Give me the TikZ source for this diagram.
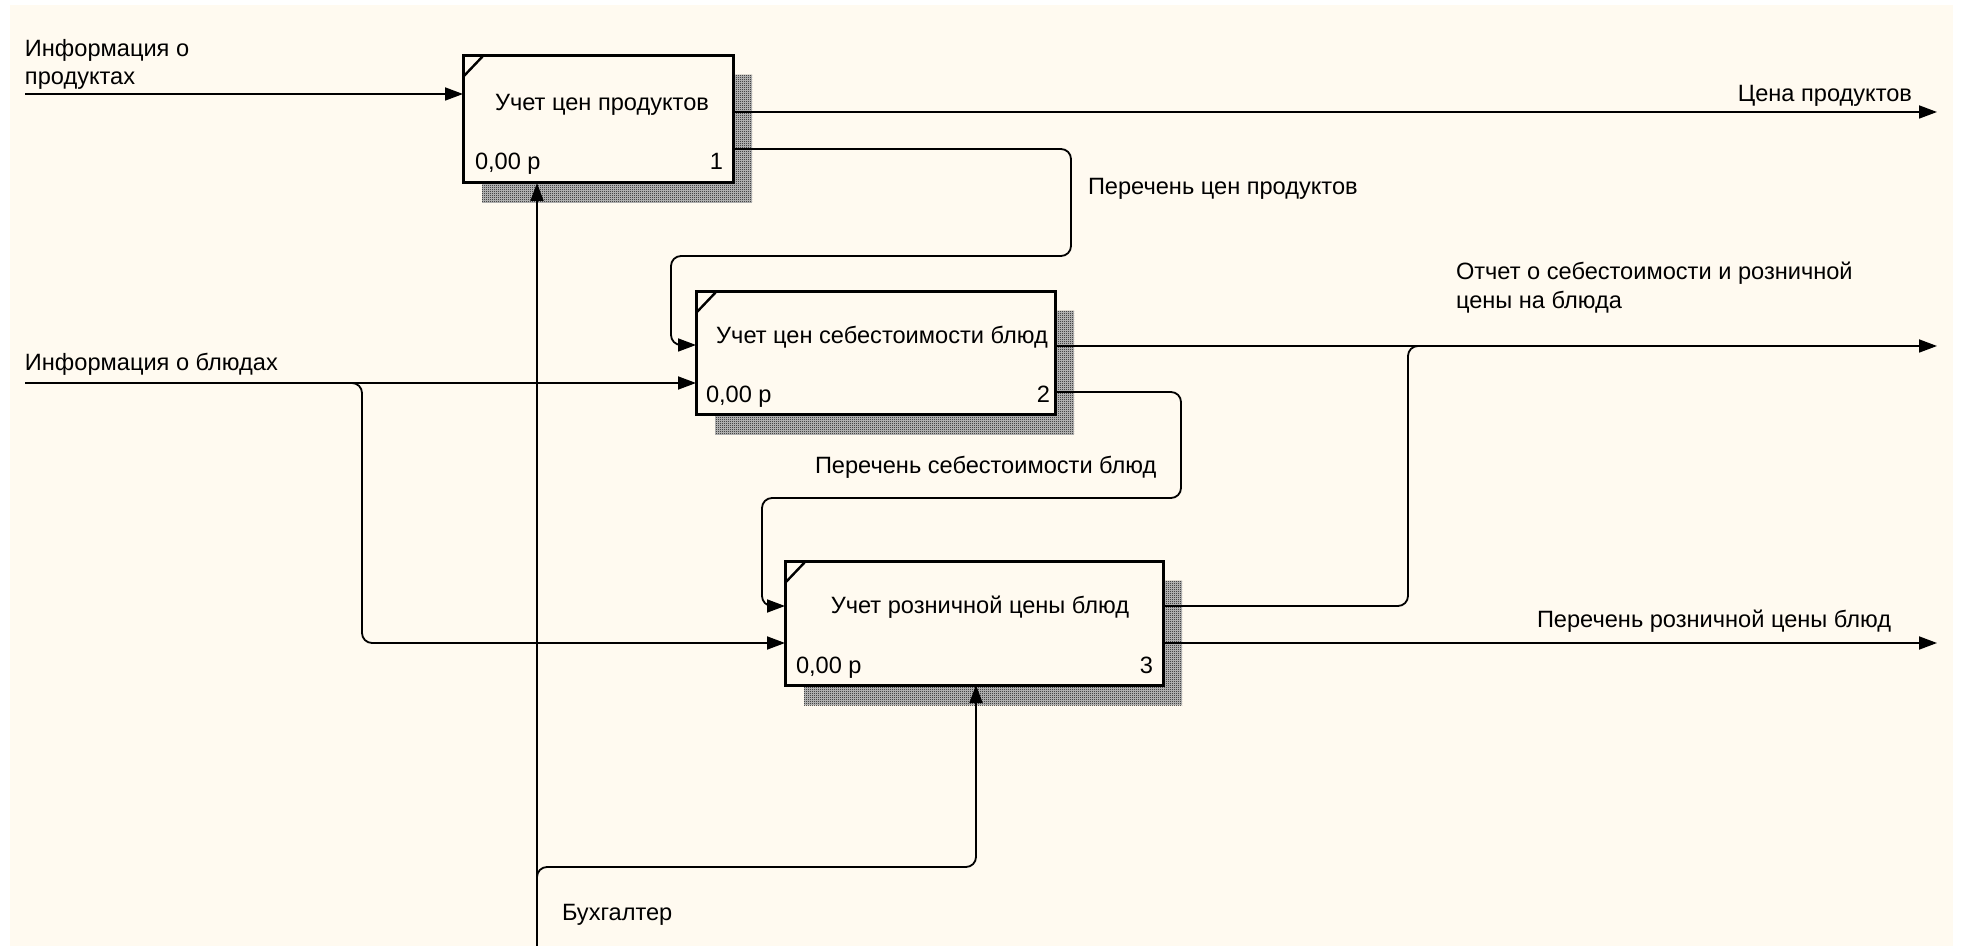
\documentclass[tikz,border=0pt]{standalone}
\usepackage{fontspec}
\setmainfont{Liberation Sans}
\usetikzlibrary{arrows.meta,patterns.meta}
\definecolor{paper}{HTML}{FFFAF0}

% fine checker used for the drop shadows of the function boxes
\pgfdeclarepattern{
  name=finecheck,
  type=uncolored,
  bottom left={\pgfpoint{0pt}{0pt}},
  top right={\pgfpoint{1pt}{1pt}},
  tile size={\pgfpoint{1pt}{1pt}},
  code={
    \pgfpathrectangle{\pgfpoint{0pt}{0pt}}{\pgfpoint{0.5pt}{0.5pt}}
    \pgfpathrectangle{\pgfpoint{0.5pt}{0.5pt}}{\pgfpoint{0.5pt}{0.5pt}}
    \pgfusepath{fill}
  }
}

\begin{document}
\begin{tikzpicture}[x=0.5pt,y=-0.5pt,
  every node/.style={font=\fontsize{11.8}{14.5}\selectfont, inner sep=0pt, outer sep=0pt, text=black},
  func/.style={draw, line width=1.5pt, fill=paper, anchor=north west},
  corner/.style={line width=1.2pt},
  shadowfill/.style={fill=black!22, postaction={pattern={finecheck}, pattern color=black}},
  flow/.style={line width=0.9pt, rounded corners=5pt, -{Triangle[length=9pt,width=6.5pt]}},
  pipe/.style={line width=0.9pt, rounded corners=5pt},
  lbl/.style={anchor=base west},
  lble/.style={anchor=base east},
  ttl/.style={anchor=base},
]
\useasboundingbox (0,0) rectangle (1961,946);
\fill[white] (0,0) rectangle (1961,946);
\fill[paper] (10,5) rectangle (1953,946);

% drop shadows
\path[shadowfill] (482,75) rectangle (752,203);
\path[shadowfill] (715,311) rectangle (1074,435);
\path[shadowfill] (804,581) rectangle (1182,705);

% function boxes
\node[func, minimum width=135pt, minimum height=63.5pt] (box1) at (463,56) {};
\node[func, minimum width=179.5pt, minimum height=61.5pt] (box2) at (696,292) {};
\node[func, minimum width=189pt, minimum height=61.5pt] (box3) at (785,562) {};
\foreach \b in {box1,box2,box3}
  \draw[corner] ([yshift=-10.5pt]\b.north west) -- ([xshift=10pt]\b.north west);

\node[ttl] (t1) at (602,111) {Учет цен продуктов};
\node[lbl] (c1) at (475,170) {0,00 р};
\node[lble] (n1) at (723,170) {1};

\node[ttl] (t2) at (882,344) {Учет цен себестоимости блюд};
\node[lbl] (c2) at (706,403) {0,00 р};
\node[lble] (n2) at (1050,403) {2};

\node[ttl] (t3) at (980,613) {Учет розничной цены блюд};
\node[lbl] (c3) at (796,673) {0,00 р};
\node[lble] (n3) at (1153,673) {3};

% free ends and arrow levels
\coordinate (inP) at (25,94);
\coordinate (inB) at (25,383);
\coordinate (outP) at (1937,112);
\coordinate (outR) at (1937,346);
\coordinate (outL) at (1937,643);
\coordinate (mech) at (537,946);
\coordinate (lvA) at (0,149);
\coordinate (lvB) at (0,345);
\coordinate (lvC) at (0,392);
\coordinate (lvD) at (0,606);

% inputs
\draw[flow] (inP) -- (inP -| box1.west);
\draw[flow] (inB) -- (inB -| box2.west);
\draw[flow] (inB) -- (362,383) -- (362,643) -- (outL -| box3.west);

% outputs
\draw[flow] (box1.east |- outP) -- (outP);
\draw[flow] (box1.east |- lvA) -- (1071,149) -- (1071,256) -- (671,256) -- (671,345) -- (box2.west |- lvB);
\draw[flow] (box2.east |- outR) -- (outR);
\draw[flow] (box2.east |- lvC) -- (1181,392) -- (1181,498) -- (762,498) -- (762,606) -- (box3.west |- lvD);
\draw[pipe] (box3.east |- lvD) -- (1408,606) -- (1408,346) -- (1430,346);
\draw[flow] (box3.east |- outL) -- (outL);

% mechanism
\draw[flow] (mech) -- (mech |- box1.south);
\draw[flow] (mech) -- (537,867) -- (976,867) -- (976,685);

% arrow labels
\node[lbl] (lInP1) at (25,57) {Информация о};
\node[lbl] (lInP2) at (25,85) {продуктах};
\node[lble] (lOutP) at (1912,102) {Цена продуктов};
\node[lbl] (lList1) at (1088,195) {Перечень цен продуктов};
\node[lbl] (lInB) at (25,371) {Информация о блюдах};
\node[lbl] (lRep1) at (1456,280) {Отчет о себестоимости и розничной};
\node[lbl] (lRep2) at (1456,309) {цены на блюда};
\node[lbl] (lList2) at (815,474) {Перечень себестоимости блюд};
\node[lbl] (lList3) at (1537,627) {Перечень розничной цены блюд};
\node[lbl] (lMech) at (562,920) {Бухгалтер};
\end{tikzpicture}
\end{document}
